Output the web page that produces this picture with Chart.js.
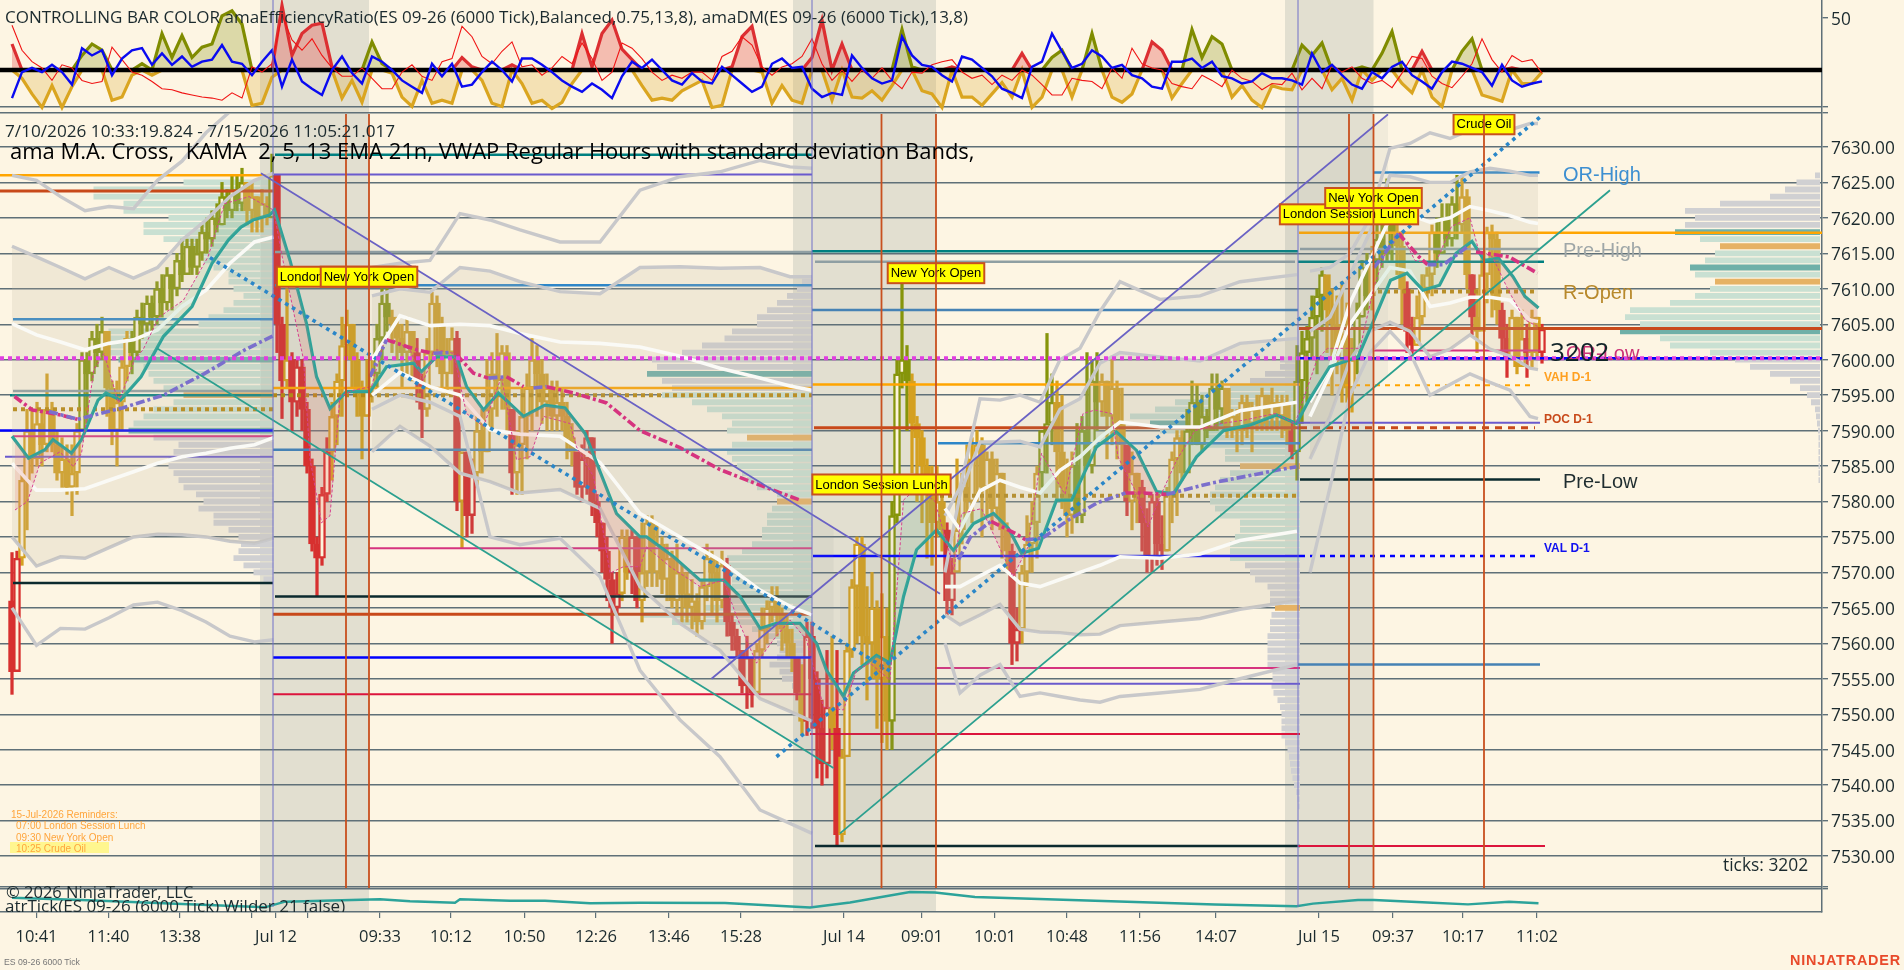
<!DOCTYPE html>
<html>
<head>
<meta charset="utf-8">
<title>ES 09-26 6000 Tick</title>
<script src="https://cdn.jsdelivr.net/npm/chart.js@4"></script>
<style>
  html, body { margin: 0; padding: 0; background: #FDF5E3; width: 1904px; height: 970px; overflow: hidden; }
  canvas { position: absolute; left: 0; }
  .t { position: absolute; white-space: pre; font-family: "Open Sans", sans-serif; color: #1b2a2e; line-height: 1; }
</style>
</head>
<body>
<canvas id="topChart" width="1904" height="114" style="top:0"></canvas>
<canvas id="mainChart" width="1904" height="774" style="top:114px"></canvas>
<canvas id="atrChart" width="1904" height="82" style="top:888px"></canvas>

<div class="t" style="left:5px;top:8px;font-size:17px">CONTROLLING BAR COLOR amaEfficiencyRatio(ES 09-26 (6000 Tick),Balanced,0.75,13,8), amaDM(ES 09-26 (6000 Tick),13,8)</div>
<div class="t" style="left:5px;top:122px;font-size:17.2px">7/10/2026 10:33:19.824 - 7/15/2026 11:05:21.017</div>
<div class="t" style="left:10px;top:139px;font-size:22px;color:#000">ama M.A. Cross,  KAMA  2, 5, 13 EMA 21n, VWAP Regular Hours with standard deviation Bands,</div>
<div style="position:absolute;left:10px;top:842px;width:99px;height:11px;background:#FFF68F"></div>
<div class="t" style="left:11px;top:809px;font:10px 'Liberation Sans';color:#FFA53C">15-Jul-2026 Reminders:</div>
<div class="t" style="left:16px;top:820px;font:10px 'Liberation Sans';color:#FFA53C">07:00 London Session Lunch</div>
<div class="t" style="left:16px;top:832px;font:10px 'Liberation Sans';color:#FFA53C">09:30 New York Open</div>
<div class="t" style="left:16px;top:843px;font:10px 'Liberation Sans';color:#FFA53C">10:25 Crude Oil</div>
<div class="t" style="left:6px;top:884px;font-size:16.5px">© 2026 NinjaTrader, LLC</div>
<div style="position:absolute;left:0;top:889px;width:400px;height:23px;overflow:hidden"><div class="t" style="left:5px;top:8px;font-size:17px">atrTick(ES 09-26 (6000 Tick) Wilder 21 false)</div></div>
<div class="t" style="left:1723px;top:856px;font-size:17.4px">ticks: 3202</div>
<div class="t" style="left:4px;top:957px;font:8.7px 'Liberation Sans';color:#777">ES 09-26 6000 Tick</div>
<div class="t" style="left:1790px;top:952px;font:bold 14.4px 'Liberation Sans';color:#E8492A;letter-spacing:.8px">NINJATRADER</div>

<script>
// one x unit is one bar, bars sit at barStart + i
const xMax = 364.4;
const barStart = 2.4;

// ---- price bars ----
const barFirstOpen = 7566;
const barClose = [
  7556,7572,7583,7590,7586,7591,7588,7593,7588,7584,7586,7582,7584,7590,7600,7598,7603,7601,7604,7596,
  7590,7594,7599,7603,7601,7606,7605,7608,7606,7610,7608,7612,7610,7614,7612,7616,7613,7615,7618,7617,
  7620,7619,7623,7621,7624,7622,7625,7621,7623,7620,7622,7620,7626,
  7605,7597,7600,7594,7599,7593,7585,7574,7572,7581,7587,7592,7597,7602,7605,7600,7596,7592,7596,7598,
  7603,7608,7606,7605,7603,7601,7604,7601,7597,7593,7601,7608,7605,7598,7601,7603,7580,7587,7578,7584,
  7590,7587,7593,7598,7597,7601,7593,7584,7588,7592,7596,7600,7598,7594,7596,7592,7594,7592,7589,7587,
  7582,7586,7589,7580,7577,7573,7569,7565,7567,7575,7570,7575,7566,7570,7577,7570,7574,7569,7572,7566,
  7570,7567,7565,7566,7563,7568,7572,7570,7566,7571,7563,7561,7559,7554,7558,7553,7559,7562,7565,7566,
  7564,7562,7560,7558,7553,7549,7561,
  7555,7548,7543,7551,7548,7533,7544,7559,7568,7574,7561,7560,7565,7555,7561,7549,7578,7598,7600,7597,
  7591,7589,7585,7581,7577,7580,7576,7566,7570,7576,7582,7580,7586,7588,7582,7586,7579,7584,7576,7573,
  7560,7562,7570,7574,7577,7584,7590,7591,7594,7587,7582,7578,7585,7578,7590,7585,7597,7594,7597,7592,
  7596,7591,7588,7580,7584,7582,7577,7572,7580,7574,7573,7581,7586,7589,7584,7590,7594,7588,7592,7590,
  7596,7593,7596,7590,7592,7590,7594,7591,7593,7591,7595,7592,7594,7592,7594,7590,7587,7597,
  7601,7603,7606,7609,7612,7607,7605,7600,7603,7596,7600,7606,7613,7609,7614,7617,7615,7620,7618,7616,
  7610,7604,7602,7606,7610,7612,7618,7615,7620,7617,7622,7619,7623,7612,7606,7604,7612,7618,7617,7607,
  7603,7600,7606,7599,7603,7601,7606,7601,7604.3
];
const barHigh = [
  7572.8,7573,7584,7593,7593,7594,7593,7598,7594,7590,7589,7588,7588,7591,7601,7601,7604,7605,7606,7604,
  7597,7597,7600,7604,7604,7607,7608,7609,7609,7611,7612,7613,7612,7615,7617,7617,7617,7617,7619,7620,
  7621,7622,7625,7624,7626,7626,7627,7625,7625,7623,7624,7623,7629,
  7612,7606,7610,7601,7600,7600,7594,7586,7575,7582,7589,7594,7598,7606,7607,7605,7601,7597,7600,7600,
  7605,7610,7610,7607,7606,7605,7606,7604,7603,7598,7603,7609.5,7609,7606,7603,7604.5,7604,7587,7587,7586,
  7592,7593,7600,7601,7603.7,7602,7602,7593,7590,7596,7598,7603,7602,7600,7598,7597,7597,7596,7594,7591,
  7587,7588,7590,7589,7581,7577,7575,7570,7570,7576,7576,7576,7575,7577,7578,7578,7577,7575,7574,7573,
  7574,7571,7570,7569,7567,7569,7574,7573,7572,7573,7572,7564,7562,7559,7561,7558,7560,7565,7566,7568,
  7568,7565,7564,7562,7558,7557,7563,
  7563,7556,7552,7559,7561,7559,7545,7560,7569,7575,7575,7568,7570,7566,7567,7565,7580,7600,7611.7,7602,
  7598,7592,7590,7586,7585,7585,7582,7577,7572,7586,7584,7588,7589,7590,7589,7587,7587,7586,7584,7577,
  7574,7565,7571,7578,7580,7585,7590,7603.7,7598,7597,7595,7586,7587,7591,7592,7601,7600,7601,7598,7597,
  7600.5,7597,7596,7586,7587,7584,7583,7579,7581,7581,7578,7582,7587,7590,7590,7593,7597,7596.5,7595,7593,
  7598,7598,7597,7595,7593,7593,7595,7595,7594,7595,7596,7595,7596,7595,7595,7595,7591,7602,
  7604,7604.7,7609,7610,7613,7611,7610,7609,7611,7608,7603,7608,7614,7615,7616,7619,7620,7625.5,7622,7620,
  7618,7611,7606,7609,7612,7613,7619,7620,7622,7622,7623,7626,7626,7624,7612,7610,7615,7618.7,7619,7618,
  7608,7605,7607,7606,7607,7605,7607,7606,7605
];
const barLow = [
  7552.8,7556,7571,7576,7584,7585,7585,7587,7587,7583,7582,7581,7578,7581,7590,7591,7597,7599,7600,7592,
  7588,7585,7590,7597,7598,7600,7603,7604,7604,7605,7606,7607,7607,7609,7611,7612,7612,7612,7614,7615,
  7616,7618,7619,7620,7620,7621,7621,7619,7618,7618,7618,7619,7620,
  7601,7591.7,7596,7590,7592,7590,7584,7573,7566.6,7571,7580,7583,7588,7592,7600,7596,7592,7586,7592,7594,
  7596,7600,7604,7601,7600,7596,7598,7597,7594,7589,7592,7600,7599,7596,7595,7598,7578.7,7573.4,7575,7575.5,
  7582,7584,7587,7590,7592,7593,7590,7581,7581,7581,7586,7590,7592,7591,7590,7590,7590,7590,7586,7585,
  7581,7580,7581,7578,7575,7570,7566,7560,7564,7566,7569,7567,7565,7563,7568,7568,7568,7567,7566,7565,
  7564,7563,7563,7562,7561,7562,7566,7564,7563,7565,7561,7559,7558,7553,7550.8,7551,7553,7558,7560,7563,
  7561,7559,7558,7556,7552,7547,7547,
  7548,7541,7540,7541,7545,7531.6,7532,7544,7558,7560,7557,7552,7555,7548,7546,7545,7545,7577,7596,7590,
  7584,7580,7577,7572,7571,7575,7573,7564,7564,7571,7574,7578,7577,7580,7575,7578,7576,7578,7572,7570,
  7557,7557.5,7560,7568,7570,7572,7582,7584,7588,7580,7579,7575,7575.5,7577,7577,7585,7584,7590,7592,7586,
  7588,7586,7585,7578,7576,7577,7573,7570,7570,7571,7570.4,7573,7577,7578,7583,7585,7588,7588,7587,7589,
  7590,7590,7591,7589,7589,7587,7588,7589,7587,7590,7590,7590,7590,7590,7589,7588,7586,7583,
  7591,7594,7600,7598,7604,7601,7595,7598,7594,7594,7592.6,7598,7606,7607,7607,7610,7613,7614,7614,7612,
  7605,7601,7600.5,7602,7605,7608,7609,7613,7615,7616,7616,7617,7618,7610,7603.5,7601,7606,7608,7606,7605,
  7601,7597.5,7601,7598,7600,7597.5,7599,7600,7599.5
];
// runs of controlling bar colour: O olive, G gold, R red
const barStateRuns = [
  ['R',2],['G',12],['O',5],['G',5],['O',23],['G',5],['O',1],
  ['R',2],['G',1],['R',8],['G',9],['O',3],['G',5],['R',2],['G',6],['R',1],['G',1],['R',2],['G',7],['R',1],['G',12],['R',9],
  ['G',2],['R',2],['G',17],['R',6],['G',8],['R',1],['G',1],['R',1],
  ['R',4],['G',1],['R',1],['G',10],['O',4],['G',7],['R',2],['G',11],['R',2],['G',4],['O',3],['G',4],['O',5],['G',5],['R',1],
  ['G',2],['R',5],['G',4],['O',8],['G',13],['R',1],['O',1],
  ['O',5],['G',6],['O',3],['G',1],['O',4],['G',2],['R',2],['G',4],['O',5],['G',2],['R',1],['G',5],['R',2],['G',3],['R',1],['G',2],['R',1]
];

// ---- top panel, step of two bars ----
const erStep = 2;
const erValues = [
  25,-8,-23,-36,-15,-36,-16,14,25,19,-29,-26,-5,6,-5,35,12,33,12,22,25,52,57,44,-34,-32,-7,62,14,35,
  43,45,3,-27,-10,-31,27,6,-3,-26,-35,-10,-32,-29,-32,12,3,-10,-32,-35,5,-13,-32,-29,-37,-31,-13,35,3,35,
  48,20,10,-15,-29,-27,-29,-20,-15,-10,-36,-34,3,32,42,-2,-32,-15,-29,-32,12,48,-29,25,-26,-27,-20,-29,-15,39,
  3,-20,-23,-36,3,-26,-26,-34,-23,-12,-26,16,-36,-26,12,19,-26,0,35,0,-26,-31,-23,0,27,19,-27,-13,39,12,
  32,25,-26,-15,-29,-36,-15,-18,-19,24,14,26,-19,-8,-29,3,-10,16,37,-13,-22,18,-26,-35,0,18,30,-24,-27,-30,
  2,-13,-13,-2
];
const erState = 'R......OOO...O.OOOOOOOOO...RRRRRR...OO.......RR...R......RRRRRR.........RRR.....RR.R.....OO...R......R..OO..O.....RR..OOOO.......OOO...O.OO..R...OO...R...';
const dmValues = [
  -27,-2,2,-2,5,-2,-14,21,14,19,-5,11,19,21,5,16,5,13,3,8,10,24,8,6,-5,8,19,-16,10,-11,
  -18,-24,0,13,-3,-13,13,8,0,-10,-16,-22,6,-6,6,-16,-14,-2,8,0,-11,11,11,5,-2,-10,-16,-21,-13,-19,
  -27,-6,8,2,10,0,-10,-14,-3,-11,-13,3,-5,-13,-21,-16,6,11,2,3,-18,-26,-22,-24,14,2,-8,-13,-10,32,
  14,5,3,-5,-11,13,10,2,-6,-18,-22,-27,3,8,35,18,2,6,19,13,2,5,-5,-8,-16,-18,8,8,11,2,
  8,-6,-8,-13,-11,-3,-8,-8,-10,-14,16,-2,5,-5,-14,-18,-2,-8,3,8,-5,-11,-18,-2,8,6,2,-2,-15,5,
  -10,-16,-13,-11,-6
].slice(0, 154);
const ratioValues = [
  43,19,8,2,-10,5,2,-10,-13,-11,22,10,-2,-5,-11,-18,-19,-22,-24,-26,-27,-29,-22,-27,3,-2,6,53,29,19,
  30,14,2,-6,-6,2,-8,-18,-18,-2,5,-6,-10,8,11,42,32,13,6,18,27,3,5,-5,2,13,6,26,11,-10,
  -2,26,21,11,-2,-10,-5,-8,-2,-2,-10,13,18,32,24,3,-5,3,6,13,30,6,-10,0,-11,0,-8,2,-10,-18,
  -2,-3,5,8,10,-2,-8,-5,-14,-5,-10,0,-5,-14,-24,-24,-8,-10,-11,-18,2,-8,21,6,2,0,-13,-16,
  -18,-5,-10,-16,0,-8,-11,-19,-13,-14,-3,-19,-8,-18,5,-2,3,-8,-13,-10,-17,-3,13,11,-6,-13,-17,-6,6,30,
  10,-2,14,8,10,-3
].slice(0, 154);
const topTicks = [50, -35.6];

// ---- bottom panel ----
const atrX = [2.4,16.3,32.7,53,57,76,82,91,92,102,109,118,128,145,162,170,182,187,195,243,259.3,262.6,271.6,274.8,285.5,293.6,301.8,307.7];
const atrValues = [1.43,1.2,.87,.47,1.03,1.27,1.07,.93,1.27,1.13,1.13,.87,.93,.9,.45,.95,2,1.95,1.5,.75,.58,.84,1.2,1.2,.95,.76,1.02,.87];

// ---- axis ticks ----
const priceTicks = [7630,7625,7620,7615,7610,7605,7600,7595,7590,7585,7580,7575,7570,7565,7560,7555,7550,7545,7540,7535,7530];
const timeTickX = [7.3,21.7,36,50.4,55.2,61.5,76,90.2,104.9,119.2,133.8,148.2,168.8,184.4,199,213.4,228,243.2,263.8,278.6,292.6,307.4];
const timeTickLabels = ['10:41','11:40','13:38','','Jul 12','','09:33','10:12','10:50','12:26','13:46','15:28','Jul 14','09:01','10:01','10:48','11:56','14:07','Jul 15','09:37','10:17','11:02'];

// ---- sessions ----
const shadeStart = [52, 158.6, 257];
const shadeEnd = [73.8, 187.2, 274.7];
const sessionBreaks = [54.6, 162.4, 259.6];
const eventBars = [69.2, 73.8, 176.3, 187.2, 269.8, 274.7, 296.8];
const eventNames = ['London Session Lunch','New York Open','London Session Lunch','New York Open','London Session Lunch','New York Open','Crude Oil'];
const eventBoxPrice = [7611.7,7611.7,7582.4,7612.2,7620.5,7622.8,7633.2];

// ---- horizontal levels: kind, price, from, to ----
const levelKind = ['orange','orange','orange','orange','vah','rust','rust','rust','rust','poc','sky','sky','sky','sky','steel','steel','steel',
  'teal','teal','teal','teal','gray','gray','gray','gray','gold','gold','gold','gold','blue','blue','blue','blue','val','pink','pink','pink','pink',
  'purple','purple','purple','purple','dark','dark','dark','dark','crimson','crimson','crimson'];
const levelPrice = [7626,7596,7596.5,7617.9,7596.4,7623.8,7564.1,7590.4,7604.4,7590.4,7605.7,7610.5,7588.2,7626.4,7587.3,7607,7557,
  7595,7628.9,7615.3,7613.8,7595.6,7615.2,7613.8,7615.6,7593,7595,7580.8,7609.6,7590,7558,7572.3,7600.2,7572.3,7589.2,7573.4,7556.5,7601.3,
  7586.3,7626.1,7554.3,7591.1,7568.5,7566.6,7531.4,7583.1,7552.8,7547.2,7531.4];
const levelFrom = [0,54.6,162.5,259.8,265,0,54.6,162.8,259.8,260,2.6,55,187.6,274.8,54.6,162.4,259.6,
  2,55,162.4,259.6,2.6,55,163,260,2.6,54.6,188,275.6,0,54.6,162.6,259.6,260,2.6,73.8,187,274.8,
  1,54.6,163,259.6,2.6,55,163,260,54.6,162,259.6];
const levelTo = [54.6,162.4,260,364.4,307,55,162.4,260,364.4,307,54.6,162.4,260,307.9,162.4,259.6,308,
  54.6,162.4,259.6,308.8,54.6,162.4,259,307.9,54.6,162.4,260,307,54.6,162.4,260,364.4,307,54.6,162.4,260,308,
  54.6,162.4,260,308,54.6,162.4,260,308,162.4,260,309];
const pivotPrice = 7600.2;

// ---- vwap bands, per session ----
const bandX = [
  [2.4,7.3,12.1,17,21.8,26.7,31.5,36.4,41.2,46,50.9,54.7],
  [74.4,80,86,92,98,104,112,120,128,136,144,152,158,162.4],
  [189,192,196,200,204,208,212,216,220,224,232,240,248,259.4],
  [262,266,270,274,278,282,286,290,294,298,302,306,307.6]
];
const bandUpper2 = [
  [7626,7625.3,7623,7621,7621.6,7621.3,7625.3,7628,7632,7635,7640,7645],
  [7613,7613.6,7614,7620.6,7619.7,7618.3,7616.6,7616.6,7623.9,7625.8,7626.5,7628.1,7627.2,7627],
  [7578,7582,7594.5,7594.3,7595,7594,7600,7601.6,7606.8,7611,7608.5,7609,7611,7612],
  [7612.5,7613,7615,7620,7629.8,7630.5,7632,7631.2,7632.4,7633.8,7632.4,7633.3,7633.3]
];
const bandUpper1 = [
  [7616,7614.5,7613,7611.4,7613,7611.5,7613,7616.9,7619.7,7623,7625.3,7626.3],
  [7609,7610,7609.5,7613,7612.5,7611,7609.6,7609.3,7613,7613.1,7612.9,7613,7611.7,7611.7],
  [7570,7581,7588.4,7588.4,7588.5,7587.7,7593,7594.5,7599.5,7601,7600.4,7599.8,7602.3,7603],
  [7604,7606,7612,7618,7626,7625.8,7625,7625,7626.5,7627,7626.6,7626,7626]
];
const bandVwap = [
  [7605.1,7603.5,7602.5,7601.4,7602.3,7602.8,7604.2,7607.5,7609.8,7613.6,7616.6,7617.3],
  [7600,7606.2,7604.8,7605,7604.8,7603.7,7602.5,7602.3,7601.8,7600.5,7598.8,7597.4,7596.3,7595.7],
  [7579,7576,7581.5,7583,7582,7581.2,7584.4,7586.3,7589,7591.2,7590.5,7590.5,7592.8,7594],
  [7594,7599,7608,7614,7620,7620.4,7619.4,7620,7621.6,7621,7620.3,7619.4,7619.2]
];
const bandLower1 = [
  [7585.4,7581.6,7581.6,7581.8,7583,7584.2,7585.4,7586.3,7586.8,7587.5,7588,7589],
  [7595,7598.2,7596.2,7595,7590.1,7589.5,7589.2,7585.5,7578.3,7575,7571.7,7567.5,7565.2,7564],
  [7568,7568,7569.5,7571,7568.5,7568,7569,7570,7571,7572.2,7572,7572.6,7574.5,7575.8],
  [7592,7598,7605,7609,7613,7612.5,7607.5,7608,7608.8,7608.8,7608.4,7605.6,7605.4]
];
const bandLower2 = [
  [7575,7570.9,7572.2,7572,7573.5,7575,7575.4,7575.3,7575,7574.4,7574.1,7574.8],
  [7587,7590.6,7587.8,7584,7582.8,7581.2,7581.7,7579,7568,7562.8,7559,7552.2,7550.4,7549],
  [7564,7562.6,7564,7565.5,7562,7561.6,7561.5,7561.2,7561.3,7562.5,7563,7563.5,7564.8,7566],
  [7586,7592,7600,7604,7605.3,7604,7600.4,7601.5,7603.5,7601.5,7600.5,7598.8,7598.6]
];
const bandLower3 = [
  [7565,7559.7,7562.1,7562,7563.6,7565.4,7565.8,7564.6,7563,7561,7560.2,7560.5],
  [7593,7595,7594,7592,7575,7573.9,7574.8,7569.4,7556.2,7549.2,7544,7536.5,7534.6,7533.2],
  [7560,7553,7555.5,7557,7552.5,7553,7552.5,7552,7551.7,7552.5,7553,7553.5,7555,7557],
  [7570,7582,7595,7601,7604,7601,7595,7596.5,7598,7596.8,7595.7,7592,7591.7]
];

// ---- moving averages ----
const emaX = [2.4,5.7,9,10.6,14.3,16.3,19.6,21.2,24.1,28.2,32.7,38.4,42.4,45.7,48.2,50.6,53.9,54.9,58,61.3,63.3,66,69.3,74,77.3,82.7,84.3,87.3,91.3,93.3,96.7,99.7,104.7,109,113,117,123.3,128,129.3,134.7,140,144.7,148,152,155.3,160,163.3,165.3,168.7,170.7,175.3,178,180.7,183.3,187.3,190.7,194.7,198.7,201.7,204.3,207.7,211.3,214.3,219.3,223.3,227.3,231.3,234.7,239.3,244.7,250,255.3,259.3,261.8,265.9,271.6,274.8,278.1,281.4,284.6,287.9,291.2,294.4,296.9,299.7,302.6,305,307.7];
const emaValues = [7589.2,7586.1,7587.3,7588.7,7586.8,7588.7,7594.3,7595.3,7594.3,7597.6,7603.3,7607.5,7613.6,7616.9,7618.7,7619.7,7620.4,7621.1,7614,7605.1,7597.6,7593.1,7595.5,7595.5,7599,7599.5,7598.3,7600.4,7600.4,7596.2,7592.9,7595.3,7592,7593.6,7593.2,7589.6,7578.3,7575,7575,7572.2,7568.9,7568.9,7566.6,7562.1,7562.8,7562.8,7560,7556.2,7552.5,7555.8,7558.3,7557.2,7566.6,7573.2,7576,7573.1,7576.9,7578.3,7576.2,7572.7,7573.4,7580.2,7580.2,7587.7,7589.8,7587.2,7581.4,7581.1,7586.3,7590,7590.8,7592.2,7591,7594.3,7599,7600.4,7605.6,7611.2,7612.2,7609.8,7610.5,7615,7616.7,7614,7614.3,7611.7,7608.9,7607.3];
const kamaX = [3,5.5,8,12,14.7,16.3,18.8,20.8,23.7,26.9,28.6,31.8,36.7,41.6,44.9,49.8,54.7,56.3,60.7,62,64.3,66,68,70.7,74.3,76.7,78.7,82,84.7,87.3,90.7,93.3,96.7,100.3,103.3,106,108.7,114,115.3,118.7,120.7,122,124.7,128,129.3,134,140,144.7,147.3,151.3,154.7,158,161.3,164.7,168.7,171.3,174,178,180.7,183.5,187,190.8,192.3,196.3,199.6,202.6,205.6,208.3,211.3,213,216.6,219,222.3,223.6,227,229.6,232.3,235.3,239,244.3,249,255,259,263.4,265.5,272,274.8,277.3,280.1,283,287,290.3,294,295.7,298.5,301.8,305,307.5];
const kamaValues = [7578.8,7580,7585.4,7587,7584.9,7586.8,7598.6,7600.9,7593.9,7600,7601.4,7606,7608.4,7614.5,7622,7623,7621.1,7615,7600,7586,7577,7578,7594.8,7595.7,7596.2,7602.3,7602.8,7601.4,7597.1,7601.4,7600.9,7592.4,7590.6,7597.6,7585.9,7586.3,7592,7591,7587.7,7583.5,7575.5,7569.9,7570.8,7570.8,7573.6,7570.8,7568,7568.9,7563.8,7557.2,7560.5,7563.3,7560.5,7551,7550.6,7556.2,7557.2,7554.8,7580.2,7582,7580,7570.4,7578.3,7579,7574,7569.4,7573.6,7586.8,7583,7581,7592.4,7592.9,7592.4,7586.3,7581.6,7576.4,7581.1,7585.8,7590,7591,7591.5,7592.4,7591,7600,7601.6,7601.6,7610.3,7615.5,7618,7614,7613.4,7618.8,7620,7615.5,7614.5,7609.6,7605.6,7604.7];

// ---- stepped trend, null breaks the line ----
const trendPinkX = [2.9,6.5,12.2,15.5,null,77.3,83.3,86.7,null,91.3,94.7,97.7,null,101.3,104.7,null,109.3,114.7,121.3,128,136,144,152,160,null,198.2,203.1,205.1,null,225.1,228.4,233.3,null,279.7,283.8,285.5,null,295.2,301.8,307.5];
const trendPinkY = [7594.8,7592.9,7592.2,7591.6,null,7602.8,7601.4,7600.9,null,7600.7,7598.1,7597.4,null,7597.6,7596.2,null,7596.2,7595.3,7593.9,7590,7587.6,7584.5,7582.3,7580.2,null,7577.2,7575.5,7574.6,null,7581.2,7581.2,7581,null,7617.8,7614.5,7613.4,null,7615.2,7614.5,7612.2];
const trendPurpleX = [9.8,15.5,24.5,32.7,40.8,49,54.7,null,74,77.3,null,86.7,90,null,97.7,101.3,null,106.7,109.3,null,191.7,194.1,198.2,null,205.1,208.4,213.7,219.4,225.1,null,233.3,242.3,256,259.3,null,274.8,276.5,279.7,null,285.5,288.7,293.6];
const trendPurpleY = [7592.7,7591.6,7593.2,7595,7598,7601.4,7603.4,null,7597.6,7602.8,null,7600.9,7601,null,7597.4,7597.6,null,7596,7596.2,null,7571.8,7575,7577.2,null,7574.6,7574.8,7577.4,7579.8,7581.2,null,7581,7582.6,7584.5,7584.9,null,7613,7614.5,7617.8,null,7613.4,7613.4,7616];

// ---- drawn channels, two anchors each ----
const channelFallX = [52.2,188];
const channelFallY = [7626.3,7567];
const channelFallLowX = [31.4,166.7];
const channelFallLowY = [7601.6,7542.4];
const channelRiseX = [142.3,277.6];
const channelRiseY = [7555,7634.6];
const channelRiseLowX = [168,322];
const channelRiseLowY = [7533.2,7623.9];
const regressFallX = [42,178.7];
const regressFallY = [7614.4,7555.8];
const regressRiseX = [155.3,308.5];
const regressRiseY = [7544,7634.5];

// ---- volume profiles, one row per point from the top price down ----
const profileBase = [54.7,162.4,260,364];
const profileTop = [7625,7611,7600,7626];
const profileVaHigh = [7625,7595,7596,7618];
const profileVaLow = [7590,7561,7572,7601];
const profileVolume = [
  [18,36,36,30,30,21,26,26,22,18,16,14,12,9,9,8,6,8,10,13,15,33,34,34,34,31,26,25,24,22,18,20,24,26,28,29,24,19,20,21,21,20,19,18,15.5,14,15,12,12,9,7,6.5,7,8,6,4,2],
  [2,3,5,7,9,11,11,16,17.5,22,26,32,31,33,30,28,30,24,21,18,16,17,13,16,17,16,15,14,13,11,7,7,8,9,9,10,10,12,14,17,17,17,16,16,15,17,24,34,28,12,10,7,6.5,7,8.5,6.5,6,4,3,1],
  [4,4,7,10,14,20,25,29,34,30,28,25,20,15,15,12,14,16,17,18,18,17,16,12,12,13,14,14,14,11,10,9,6.5,6,6,5,5.7,6,6,6.5,6.5,6.5,6.5,6.5,5.5,5.5,5.7,5.3,4.5,4,3.7,3.7,3.7,3.7,3,2.5,2.2,2,1.8,1.5,1.2,.8,.5,.4],
  [1,4.7,7,10,20,27,25,27,29,24,20,21,23,26,25,21,22,25,30,38,39,36,40,32,30,22,17,14,10,6,4,2.6,1.8,1,.8,.6,.4,.3,.3,.3,.3,.3,.3,.3]
];
const profilePoc = [[7600,7590],[7598],[7591],[7618,7613,7604]];
const profileMarked = [[7595],[7589,7580],[7585,7565],[7616,7611]];

// ---- price labels ----
const labelTexts = ['OR-High','Pre-High','R-Open','OR-Low','Pre-Low','VAH D-1','POC D-1','VAL D-1','3202'];
const labelX = [312.6,312.6,312.6,313.2,312.6,308.8,308.8,308.8,310];
const labelPrice = [7626,7615.2,7609.3,7600.8,7582.7,7597.5,7591.5,7573.4,7600.8];

const levelLook = {
  orange:{c:'#FFA500',w:2.5}, vah:{c:'#FFA500',w:2,d:[5,5]}, rust:{c:'#C8491A',w:3}, poc:{c:'#C8491A',w:3,d:[7,6]},
  sky:{c:'#2E86C8',w:2.5}, steel:{c:'#4682B4',w:2.5}, teal:{c:'#008080',w:2.5}, gray:{c:'#8F9FA3',w:2.5},
  gold:{c:'#B8860B',w:4,d:[4,4]}, blue:{c:'#0000FF',w:2.5}, val:{c:'#0000FF',w:2.5,d:[5,5]}, pink:{c:'#D6337F',w:2},
  purple:{c:'#6A5ACD',w:2}, dark:{c:'#0B2A2E',w:2.5}, crimson:{c:'#DC143C',w:2}
};
const barLook = { O:'#86950A', G:'#D4A020', R:'#D7302F' };
const gridColor = '#5F7078';
const axisFont = { family:'"Open Sans"', size:17.3 };
const timeFont = { family:'"Open Sans"', size:16.5 };

function points(xs, ys) { return xs.map((x, i) => ({ x: x, y: ys[i] })); }

function paintOrder(list) { list.forEach((d, i) => { d.order = -i; }); return list; }

const shadePlugin = {
  id: 'sessionShade',
  beforeDraw(chart) {
    const ctx = chart.ctx, x = chart.scales.x, a = chart.chartArea;
    ctx.save();
    ctx.fillStyle = '#E2DFD0';
    shadeStart.forEach((s, i) => {
      const l = x.getPixelForValue(s), r = x.getPixelForValue(shadeEnd[i]);
      ctx.fillRect(l, a.top, r - l, a.bottom - a.top);
    });
    ctx.restore();
  }
};

function baseOptions(yOpts, xOpts) {
  return {
    responsive: false, animation: false, events: [], devicePixelRatio: 1,
    layout: { padding: 0, autoPadding: false },
    plugins: { legend: { display: false }, tooltip: { enabled: false } },
    elements: { point: { radius: 0 }, line: { tension: 0 } },
    scales: { x: xOpts, y: yOpts }
  };
}

const hiddenX = { type: 'linear', min: 0, max: xMax, offset: false, display: false };

function rightAxis(min, max, values, label, gridFor) {
  return {
    position: 'right', min: min, max: max,
    afterFit(s) { s.width = 82; s.paddingTop = 0; s.paddingBottom = 0; },
    afterBuildTicks(s) { s.ticks = values.map(v => ({ value: v })); },
    border: { display: true, color: gridColor, width: 1.5 },
    grid: { color: gridFor, lineWidth: 1.4, tickLength: 6, tickColor: gridColor },
    ticks: { font: axisFont, color: '#1b2a2e', padding: 3, labelOffset: 2, autoSkip: false, maxRotation: 0, callback: label }
  };
}

// ---- top chart ----
const erX = erValues.map((_, k) => barStart + k * erStep);
const topSets = [];
[['G','#DAA520','rgba(218,165,32,.24)'],['O','#808C00','rgba(128,140,0,.26)'],['R','#DC2F32','rgba(224,60,60,.3)']].forEach(e => {
  const ys = erValues.map((v, k) => {
    if (e[0] === 'G') return Math.min(v, 0);
    return erState[k] === e[0] && v > 0 ? v : 0;
  });
  topSets.push({ type:'line', data: points(erX, ys), borderColor: e[1], borderWidth: 3.2, fill: { target: { value: 0 }, above: e[2], below: e[2] } });
});
topSets.push({ type:'line', data: points([0, xMax], [0, 0]), borderColor:'#000', borderWidth: 4.5 });
topSets.push({ type:'line', data: points(erX, ratioValues), borderColor:'#F01414', borderWidth: 1.1 });
topSets.push({ type:'line', data: points(erX, dmValues), borderColor:'#0A0AF0', borderWidth: 2.4 });
sessionBreaks.forEach(b => topSets.push({ type:'line', data: points([b, b], [-42.3, 67.3]), borderColor:'#7070C8', borderWidth: 1 }));

new Chart(document.getElementById('topChart'), {
  type: 'line',
  data: { datasets: paintOrder(topSets) },
  options: baseOptions(
    rightAxis(-42.3, 67.3, topTicks.concat([-41.3]), v => (v === 50 ? '50' : ''), ctx => (ctx.tick.value === 50 ? 'rgba(0,0,0,0)' : gridColor)),
    hiddenX
  ),
  plugins: [shadePlugin]
});

// ---- main chart ----
const barState = [];
barStateRuns.forEach(r => { for (let n = 0; n < r[1]; n++) barState.push(r[0]); });
const barColors = barClose.map((_, i) => barLook[barState[i]]);
const barX = barClose.map((_, i) => barStart + i);
const barOpen = barClose.map((_, i) => (i === 0 ? barFirstOpen : barClose[i - 1]));
const bodies = barClose.map((c, i) => ({ x: barX[i], y: [barOpen[i], c] }));
const wicks = barClose.map((c, i) => ({ x: barX[i], y: [barLow[i], barHigh[i]] }));
// falling bars are solid, rising bars hollow
const bodyFill = barClose.map((c, i) => (c < barOpen[i] ? barColors[i] : '#FDF3DC'));

const mainSets = [];

// profiles go under everything
const rowGroups = { green: [], gray: [], poc: [], marked: [] };
profileVolume.forEach((rows, p) => {
  rows.forEach((vol, r) => {
    const price = profileTop[p] - r;
    let g = (price <= profileVaHigh[p] && price >= profileVaLow[p]) ? 'green' : 'gray';
    if (profilePoc[p].includes(price)) g = 'poc';
    if (profileMarked[p].includes(price)) g = 'marked';
    rowGroups[g].push({ x: profileBase[p], y: price }, { x: profileBase[p] - vol, y: price }, { x: profileBase[p], y: null });
  });
});
[['green','#C9E0D2'],['gray','#D0D0D2'],['poc','#6FB0A8'],['marked','#E6B264']].forEach(g => {
  mainSets.push({ type:'line', data: rowGroups[g[0]], borderColor: g[1], borderWidth: 5.8, borderCapStyle:'butt', spanGaps:false });
});

mainSets.push({ type:'bar', data: wicks, grouped:false, barThickness: 2.6, backgroundColor: barColors, borderWidth: 0 });
mainSets.push({ type:'bar', data: bodies, grouped:false, barThickness: 7, backgroundColor: bodyFill, borderColor: barColors, borderWidth: 2.4, borderSkipped:false });

levelPrice.forEach((p, i) => {
  const look = levelLook[levelKind[i]];
  mainSets.push({ type:'line', data: points([levelFrom[i], levelTo[i]], [p, p]), borderColor: look.c, borderWidth: look.w, borderDash: look.d || [] , borderCapStyle:'butt'});
});

// channel shading
mainSets.push({ type:'line', data: points(channelFallLowX, channelFallLowY), borderWidth: 0, borderColor:'rgba(0,0,0,0)' });
let lowIdx = mainSets.length - 1;
mainSets.push({ type:'line', data: points(channelFallX, channelFallY), borderWidth: 0, borderColor:'rgba(0,0,0,0)', fill: { target: lowIdx, above:'rgba(140,150,150,.10)', below:'rgba(140,150,150,.10)' } });
mainSets.push({ type:'line', data: points(channelRiseLowX, channelRiseLowY), borderWidth: 0, borderColor:'rgba(0,0,0,0)' });
lowIdx = mainSets.length - 1;
mainSets.push({ type:'line', data: points(channelRiseX, channelRiseY), borderWidth: 0, borderColor:'rgba(0,0,0,0)', fill: { target: lowIdx, above:'rgba(140,150,150,.10)', below:'rgba(140,150,150,.10)' } });

// bands
bandX.forEach((xs, s) => {
  mainSets.push({ type:'line', data: points(xs, bandLower2[s]), borderColor:'#C8C8CA', borderWidth: 3.4 });
  const lo = mainSets.length - 1;
  mainSets.push({ type:'line', data: points(xs, bandUpper1[s]), borderColor:'#C8C8CA', borderWidth: 3.4, fill: { target: lo, above:'rgba(190,180,160,.20)', below:'rgba(190,180,160,.20)' } });
  mainSets.push({ type:'line', data: points(xs, bandUpper2[s]), borderColor:'#C8C8CA', borderWidth: 3.4 });
  mainSets.push({ type:'line', data: points(xs, bandLower3[s]), borderColor:'#C8C8CA', borderWidth: 3.4 });
  mainSets.push({ type:'line', data: points(xs, bandVwap[s]), borderColor:'#FAFAF6', borderWidth: 3.6 });
  mainSets.push({ type:'line', data: points(xs, bandLower1[s]), borderColor:'#FAFAF6', borderWidth: 3.6 });
});

// kama and ema with the cloud between them
mainSets.push({ type:'line', data: points(emaX, emaValues), borderColor:'#2CA39A', borderWidth: 3.2 });
const emaIdx = mainSets.length - 1;
mainSets.push({ type:'line', data: points(kamaX, kamaValues), borderColor:'#D6438F', borderWidth: 1, borderDash:[3,2], fill: { target: emaIdx, above:'rgba(120,190,150,.16)', below:'rgba(225,120,110,.2)' } });

mainSets.push({ type:'line', data: points(trendPinkX, trendPinkY), borderColor:'#D6337F', borderWidth: 3.6, borderDash:[9,3,3,3], spanGaps:false });
mainSets.push({ type:'line', data: points(trendPurpleX, trendPurpleY), borderColor:'#7B6FCC', borderWidth: 3.6, borderDash:[9,3,3,3], spanGaps:false });
mainSets.push({ type:'line', data: points(regressFallX, regressFallY), borderColor:'#2A86C8', borderWidth: 3.6, borderDash:[3.6,4.4] });
mainSets.push({ type:'line', data: points(regressRiseX, regressRiseY), borderColor:'#2A86C8', borderWidth: 3.6, borderDash:[3.6,4.4] });
mainSets.push({ type:'line', data: points(channelFallX, channelFallY), borderColor:'#6A62C4', borderWidth: 1.8 });
mainSets.push({ type:'line', data: points(channelRiseX, channelRiseY), borderColor:'#6A62C4', borderWidth: 1.8 });
mainSets.push({ type:'line', data: points(channelFallLowX, channelFallLowY), borderColor:'#2CA08F', borderWidth: 1.8 });
mainSets.push({ type:'line', data: points(channelRiseLowX, channelRiseLowY), borderColor:'#2CA08F', borderWidth: 1.8 });
mainSets.push({ type:'line', data: points([0, xMax], [pivotPrice, pivotPrice]), borderColor:'#E040E0', borderWidth: 4, borderDash:[4,4], borderCapStyle:'butt' });

sessionBreaks.forEach(b => mainSets.push({ type:'line', data: points([b, b], [7500, 7650]), borderColor:'#7070C8', borderWidth: 1 }));
const eventPts = [];
eventBars.forEach(b => { eventPts.push({ x: b, y: 7500 }, { x: b, y: 7650 }, { x: b, y: null }); });
mainSets.push({ label:'events', type:'line', data: eventPts, borderColor:'#C8501E', borderWidth: 1.8, spanGaps:false });

const labelPlugin = {
  id: 'priceLabels',
  beforeDatasetDraw(chart, args) {
    if (chart.data.datasets[args.index].label !== 'events') return;
    const ctx = chart.ctx, sx = chart.scales.x, sy = chart.scales.y;
    ctx.save();
    ctx.font = '13px "Liberation Sans"';
    ctx.textAlign = 'center';
    ctx.textBaseline = 'middle';
    eventNames.forEach((name, i) => {
      const cx = sx.getPixelForValue(eventBars[i]), cy = sy.getPixelForValue(eventBoxPrice[i]);
      const w = ctx.measureText(name).width + 6;
      ctx.fillStyle = '#FFFF00';
      ctx.fillRect(cx - w / 2, cy - 10, w, 20);
      ctx.strokeStyle = '#C8501E';
      ctx.lineWidth = 2;
      ctx.strokeRect(cx - w / 2, cy - 10, w, 20);
      ctx.fillStyle = '#000';
      ctx.fillText(name, cx, cy + 0.5);
    });
    ctx.restore();
  },
  afterDatasetsDraw(chart) {
    const ctx = chart.ctx, sx = chart.scales.x, sy = chart.scales.y;
    const looks = [
      ['20px "Liberation Sans"','#3D8FD1'],['20px "Liberation Sans"','#9FA7A8'],['20px "Liberation Sans"','#B8892B'],
      ['20px "Liberation Sans"','#CC3377'],['20px "Liberation Sans"','#1F2D30'],
      ['bold 12px "Liberation Sans"','#FFA020'],['bold 12px "Liberation Sans"','#C8491A'],['bold 12px "Liberation Sans"','#1010F0'],
      ['26px "Open Sans"','#12252A']
    ];
    ctx.save();
    ctx.textBaseline = 'middle';
    labelTexts.forEach((t, i) => {
      ctx.font = looks[i][0];
      ctx.fillStyle = looks[i][1];
      ctx.fillText(t, sx.getPixelForValue(labelX[i]), sy.getPixelForValue(labelPrice[i]));
    });
    ctx.restore();
  }
};

new Chart(document.getElementById('mainChart'), {
  type: 'bar',
  data: { datasets: paintOrder(mainSets) },
  options: baseOptions(
    rightAxis(7525.49, 7634.65, priceTicks.concat([7525.65]), v => (v > 7526 ? v.toFixed(2) : ''), () => gridColor),
    hiddenX
  ),
  plugins: [shadePlugin, labelPlugin]
});

// ---- atr chart with the time axis ----
const atrSets = [
  { type:'line', data: points(atrX, atrValues), borderColor:'#2CA39A', borderWidth: 2.4 }
];
sessionBreaks.forEach(b => atrSets.push({ type:'line', data: points([b, b], [0.5, 2.4]), borderColor:'#7070C8', borderWidth: 1 }));

new Chart(document.getElementById('atrChart'), {
  type: 'line',
  data: { datasets: paintOrder(atrSets) },
  options: baseOptions(
    rightAxis(0, 2.4, [2.3], () => '', () => gridColor),
    {
      type: 'linear', min: 0, max: xMax, offset: false,
      afterFit(s) { s.height = 58; s.paddingLeft = 0; s.paddingRight = 0; },
      afterBuildTicks(s) { s.ticks = timeTickX.map(v => ({ value: v })); },
      border: { display: true, color: gridColor, width: 1.5 },
      grid: { drawOnChartArea: false, tickLength: 6, color: gridColor, lineWidth: 1.2 },
      ticks: {
        font: timeFont, color: '#1b2a2e', autoSkip: false, maxRotation: 0, padding: 9,
        callback: (v, i) => timeTickLabels[i]
      }
    }
  ),
  plugins: [shadePlugin]
});
</script>
</body>
</html>
